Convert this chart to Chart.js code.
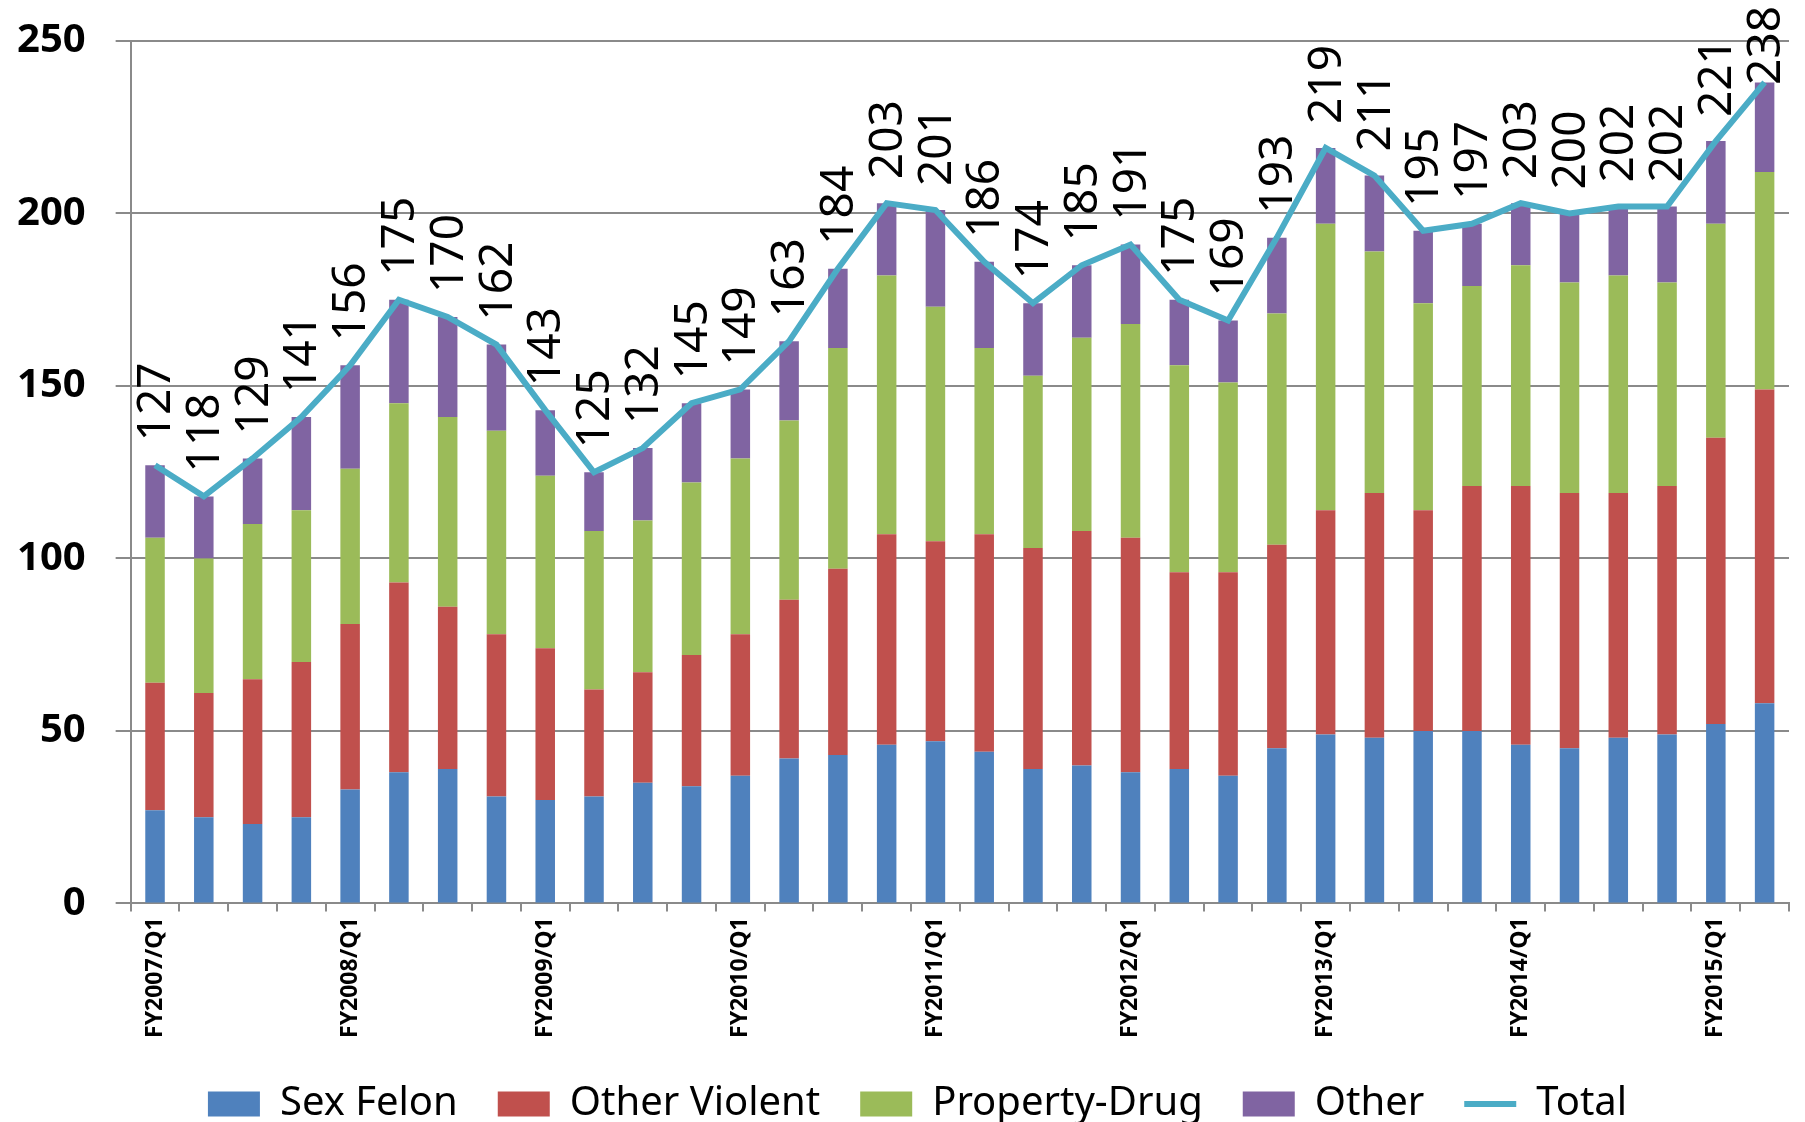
<!DOCTYPE html>
<html>
<head>
<meta charset="utf-8">
<script src="https://cdn.jsdelivr.net/npm/chart.js@4.4.1/dist/chart.umd.min.js"></script>
<style>
  html, body { margin: 0; padding: 0; background: #fff; }
  #wrap { width: 1805px; height: 1122px; }
</style>
</head>
<body>
<div id="wrap"><canvas id="myChart" width="1805" height="1122"></canvas></div>
<script>
const quarters = [
  'FY2007/Q1', 'FY2007/Q2', 'FY2007/Q3', 'FY2007/Q4',
  'FY2008/Q1', 'FY2008/Q2', 'FY2008/Q3', 'FY2008/Q4',
  'FY2009/Q1', 'FY2009/Q2', 'FY2009/Q3', 'FY2009/Q4',
  'FY2010/Q1', 'FY2010/Q2', 'FY2010/Q3', 'FY2010/Q4',
  'FY2011/Q1', 'FY2011/Q2', 'FY2011/Q3', 'FY2011/Q4',
  'FY2012/Q1', 'FY2012/Q2', 'FY2012/Q3', 'FY2012/Q4',
  'FY2013/Q1', 'FY2013/Q2', 'FY2013/Q3', 'FY2013/Q4',
  'FY2014/Q1', 'FY2014/Q2', 'FY2014/Q3', 'FY2014/Q4',
  'FY2015/Q1', 'FY2015/Q2'
];

const sexFelon = [27, 25, 23, 25, 33, 38, 39, 31, 30, 31, 35, 34, 37, 42, 43, 46, 47, 44, 39, 40, 38, 39, 37, 45, 49, 48, 50, 50, 46, 45, 48, 49, 52, 58];
const otherViolent = [37, 36, 42, 45, 48, 55, 47, 47, 44, 31, 32, 38, 41, 46, 54, 61, 58, 63, 64, 68, 68, 57, 59, 59, 65, 71, 64, 71, 75, 74, 71, 72, 83, 91];
const propertyDrug = [42, 39, 45, 44, 45, 52, 55, 59, 50, 46, 44, 50, 51, 52, 64, 75, 68, 54, 50, 56, 62, 60, 55, 67, 83, 70, 60, 58, 64, 61, 63, 59, 62, 63];
const other = [21, 18, 19, 27, 30, 30, 29, 25, 19, 17, 21, 23, 20, 23, 23, 21, 28, 25, 21, 21, 23, 19, 18, 22, 22, 22, 21, 18, 18, 20, 20, 22, 24, 26];
const total = [127, 118, 129, 141, 156, 175, 170, 162, 143, 125, 132, 145, 149, 163, 184, 203, 201, 186, 174, 185, 191, 175, 169, 193, 219, 211, 195, 197, 203, 200, 202, 202, 221, 238];

const axisGray = '#8a8a8a';

// rotated value labels above the Total line
const totalLabels = {
  id: 'totalLabels',
  afterLayout(chart) {
    // legend in the original sits a little right of centre
    chart.legend.left += 23;
    chart.legend.right += 23;
  },
  afterDatasetsDraw(chart) {
    const meta = chart.getDatasetMeta(4);
    const ctx = chart.ctx;
    ctx.save();
    ctx.font = '46px "Noto Sans"';
    ctx.fillStyle = '#000';
    ctx.textAlign = 'left';
    ctx.textBaseline = 'middle';
    meta.data.forEach((pt, i) => {
      const txt = String(total[i]);
      const w = ctx.measureText(txt).width;
      let start = pt.y - 24;
      if (start - w < 6) start = w + 6; // keep inside the canvas like Excel does
      ctx.save();
      ctx.translate(pt.x + 2, start);
      ctx.rotate(-Math.PI / 2);
      ctx.fillText(txt, 0, 0);
      ctx.restore();
    });
    ctx.restore();
  }
};

const barDefaults = { type: 'bar', borderWidth: 0, categoryPercentage: 0.8, barPercentage: 0.5, stack: 'bars' };

new Chart(document.getElementById('myChart').getContext('2d'), {
  data: {
    labels: quarters,
    datasets: [
      { ...barDefaults, label: 'Sex Felon', data: sexFelon, backgroundColor: '#4F81BD' },
      { ...barDefaults, label: 'Other Violent', data: otherViolent, backgroundColor: '#C0504D' },
      { ...barDefaults, label: 'Property-Drug', data: propertyDrug, backgroundColor: '#9BBB59' },
      { ...barDefaults, label: 'Other', data: other, backgroundColor: '#8064A2' },
      {
        type: 'line', label: 'Total', data: total, stack: 'line', order: -1,
        borderColor: '#4BACC6', backgroundColor: '#4BACC6', borderWidth: 6,
        pointRadius: 0, tension: 0, fill: false
      }
    ]
  },
  options: {
    responsive: false,
    animation: false,
    layout: { padding: { left: 0, right: 16, top: 0, bottom: -12 } },
    scales: {
      x: {
        stacked: true,
        grid: { drawOnChartArea: false, drawTicks: true, tickLength: 8, color: axisGray, lineWidth: 2 },
        border: { color: axisGray, width: 2 },
        ticks: {
          autoSkip: false,
          minRotation: 90,
          maxRotation: 90,
          padding: 6,
          color: '#000',
          font: { family: '"Noto Sans"', size: 23, weight: 'bold' },
          callback: (v, i) => (i % 4 === 0 ? quarters[i] : '')
        }
      },
      y: {
        stacked: true,
        min: 0,
        max: 250,
        afterFit: (scale) => { scale.width -= 13; },
        grid: { color: axisGray, lineWidth: 2, tickLength: 15 },
        border: { color: axisGray, width: 2 },
        ticks: {
          stepSize: 50,
          padding: 30,
          color: '#000',
          font: { family: '"Noto Sans"', size: 40, weight: 'bold', lineHeight: 0.55 }
        }
      }
    },
    plugins: {
      tooltip: { enabled: false },
      legend: {
        position: 'bottom',
        labels: {
          sort: (a, b) => a.datasetIndex - b.datasetIndex,
          usePointStyle: true,
          pointStyleWidth: 52,
          boxHeight: 25,
          padding: 40,
          color: '#000',
          font: { family: '"Noto Sans"', size: 40 },
          generateLabels: (chart) => Chart.defaults.plugins.legend.labels.generateLabels(chart).map((item) => {
            item.pointStyle = item.datasetIndex === 4 ? 'line' : 'rect';
            return item;
          })
        }
      }
    }
  },
  plugins: [totalLabels]
});
</script>
</body>
</html>
